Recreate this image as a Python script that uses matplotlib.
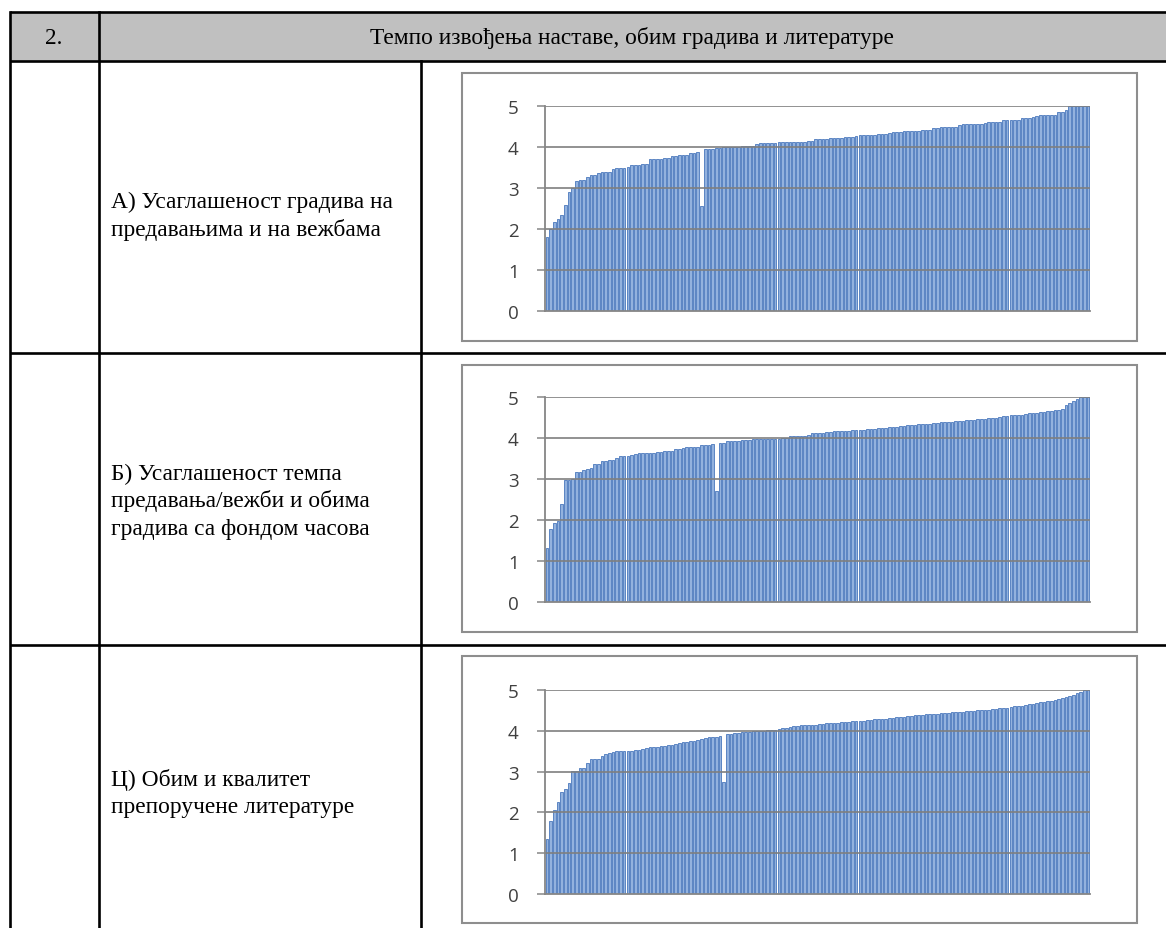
import matplotlib
matplotlib.use('Agg')
import matplotlib.pyplot as plt
from matplotlib.patches import Rectangle

W, H = 1166, 929

# table text
header_num = '2.'
header_title = 'Темпо извођења наставе, обим градива и литературе'
row_labels = [
    ['А) Усаглашеност градива на', 'предавањима и на вежбама'],
    ['Б) Усаглашеност темпа', 'предавања/вежби и обима', 'градива са фондом часова'],
    ['Ц) Обим и квалитет', 'препоручене литературе'],
]
y_ticks = [0, 1, 2, 3, 4, 5]

# sorted average marks per course
scores_a = [1.81, 2.00, 2.16, 2.25, 2.33, 2.58, 2.91, 3.00, 3.16, 3.20, 3.20, 3.26,
            3.32, 3.32, 3.37, 3.38, 3.38, 3.39, 3.47, 3.48, 3.48, 3.50, 3.52, 3.55,
            3.55, 3.57, 3.58, 3.58, 3.70, 3.70, 3.71, 3.71, 3.74, 3.74, 3.77, 3.77,
            3.80, 3.80, 3.81, 3.85, 3.85, 3.89, 2.55, 3.94, 3.94, 3.95, 3.97, 3.97,
            4.00, 4.00, 4.01, 4.01, 4.01, 4.02, 4.02, 4.03, 4.03, 4.08, 4.09, 4.10,
            4.10, 4.10, 4.10, 4.11, 4.11, 4.11, 4.11, 4.12, 4.12, 4.12, 4.13, 4.15,
            4.15, 4.19, 4.20, 4.20, 4.20, 4.21, 4.23, 4.23, 4.23, 4.24, 4.24, 4.25,
            4.28, 4.29, 4.29, 4.30, 4.30, 4.30, 4.31, 4.31, 4.32, 4.35, 4.36, 4.36,
            4.37, 4.39, 4.40, 4.40, 4.40, 4.40, 4.41, 4.41, 4.42, 4.47, 4.47, 4.48,
            4.48, 4.49, 4.49, 4.50, 4.54, 4.55, 4.55, 4.55, 4.56, 4.56, 4.57, 4.59,
            4.60, 4.60, 4.61, 4.61, 4.65, 4.66, 4.66, 4.67, 4.67, 4.70, 4.71, 4.71,
            4.72, 4.76, 4.77, 4.78, 4.78, 4.79, 4.79, 4.86, 4.86, 4.90, 5.00, 5.00,
            5.00, 5.00, 5.00, 5.00]
scores_b = [1.31, 1.78, 1.92, 1.97, 2.39, 2.98, 2.98, 2.99, 3.16, 3.16, 3.23, 3.25,
            3.27, 3.37, 3.37, 3.43, 3.45, 3.46, 3.47, 3.51, 3.56, 3.57, 3.57, 3.58,
            3.62, 3.63, 3.63, 3.63, 3.64, 3.64, 3.67, 3.67, 3.68, 3.69, 3.69, 3.73,
            3.73, 3.76, 3.77, 3.77, 3.77, 3.78, 3.83, 3.84, 3.84, 3.85, 2.70, 3.88,
            3.88, 3.92, 3.93, 3.93, 3.93, 3.94, 3.96, 3.96, 3.97, 3.97, 3.97, 3.97,
            3.98, 3.98, 3.98, 3.98, 3.99, 3.99, 4.04, 4.05, 4.05, 4.06, 4.06, 4.07,
            4.11, 4.12, 4.13, 4.13, 4.14, 4.15, 4.16, 4.16, 4.17, 4.18, 4.18, 4.19,
            4.19, 4.20, 4.20, 4.22, 4.22, 4.23, 4.24, 4.24, 4.25, 4.26, 4.26, 4.27,
            4.30, 4.30, 4.31, 4.32, 4.32, 4.33, 4.34, 4.34, 4.35, 4.37, 4.37, 4.38,
            4.39, 4.39, 4.40, 4.41, 4.41, 4.42, 4.44, 4.44, 4.45, 4.46, 4.46, 4.47,
            4.48, 4.49, 4.50, 4.52, 4.53, 4.54, 4.55, 4.55, 4.56, 4.57, 4.58, 4.60,
            4.61, 4.62, 4.63, 4.64, 4.65, 4.66, 4.68, 4.69, 4.70, 4.80, 4.85, 4.90,
            4.95, 5.00, 5.00, 5.00]
scores_c = [1.35, 1.80, 2.06, 2.26, 2.49, 2.57, 2.71, 3.02, 3.02, 3.09, 3.09, 3.21,
            3.30, 3.31, 3.32, 3.38, 3.43, 3.46, 3.49, 3.50, 3.50, 3.50, 3.50, 3.51,
            3.52, 3.52, 3.55, 3.58, 3.60, 3.60, 3.61, 3.62, 3.63, 3.65, 3.66, 3.68,
            3.70, 3.72, 3.73, 3.75, 3.76, 3.78, 3.80, 3.82, 3.84, 3.85, 3.86, 3.87,
            2.75, 3.92, 3.93, 3.94, 3.95, 3.96, 3.97, 3.98, 3.99, 4.00, 4.00, 4.00,
            4.01, 4.02, 4.03, 4.05, 4.06, 4.08, 4.10, 4.11, 4.12, 4.13, 4.13, 4.14,
            4.15, 4.15, 4.16, 4.17, 4.18, 4.19, 4.20, 4.20, 4.21, 4.22, 4.22, 4.23,
            4.24, 4.25, 4.25, 4.26, 4.27, 4.28, 4.28, 4.29, 4.30, 4.31, 4.32, 4.33,
            4.34, 4.35, 4.36, 4.37, 4.38, 4.38, 4.39, 4.40, 4.40, 4.41, 4.42, 4.43,
            4.43, 4.44, 4.45, 4.45, 4.46, 4.47, 4.48, 4.48, 4.49, 4.50, 4.50, 4.51,
            4.52, 4.53, 4.54, 4.55, 4.56, 4.57, 4.58, 4.60, 4.61, 4.62, 4.64, 4.65,
            4.66, 4.68, 4.70, 4.71, 4.72, 4.74, 4.76, 4.78, 4.80, 4.82, 4.85, 4.88,
            4.92, 4.95, 5.00, 5.00]
all_scores = [scores_a, scores_b, scores_c]

# layout in pixels (from the top left corner)
row_tops = [62, 354, 646]
text_baselines = [[208, 236], [480, 507.5, 535], [786, 813.5]]
frames = [(462, 74, 1137, 342), (462, 366, 1137, 633), (462, 657, 1137, 924)]
plots = [(545, 107, 1090, 312), (545, 398, 1090, 603), (545, 691, 1090, 895)]

serif = 'Liberation Serif'
grey = '#7F7F7F'
text_size = 16.8

fig = plt.figure(figsize=(W / 100, H / 100), dpi=100)
bg = fig.add_axes([0, 0, 1, 1])
bg.set_xlim(0, W)
bg.set_ylim(H, 0)
bg.axis('off')

# header row
bg.add_patch(Rectangle((10, 13), W - 10, 49, facecolor='#C0C0C0', edgecolor='none'))
bg.text(54, 44, header_num, family=serif, fontsize=text_size, ha='center', va='baseline')
bg.text(632, 44, header_title, family=serif, fontsize=text_size, ha='center', va='baseline')

# table grid
lw = 1.9
for y in [13, 62] + row_tops[1:]:
    bg.plot([10, W], [y, y], color='black', lw=lw, solid_capstyle='butt')
bg.plot([10, 10], [13, H], color='black', lw=lw)
bg.plot([98.5, 98.5], [13, H], color='black', lw=lw)
bg.plot([421, 421], [62, H], color='black', lw=lw)

for lines, bases in zip(row_labels, text_baselines):
    for s, yb in zip(lines, bases):
        bg.text(111, yb, s, family=serif, fontsize=text_size, ha='left', va='baseline')

for (x0, y0, x1, y1) in frames:
    bg.add_patch(Rectangle((x0, y0), x1 - x0, y1 - y0, facecolor='white',
                           edgecolor='#8E8E8E', lw=1.5))

# the bar charts
for scores, (x0, y0, x1, y1) in zip(all_scores, plots):
    ax = fig.add_axes([x0 / W, 1 - y1 / H, (x1 - x0) / W, (y1 - y0) / H])
    ax.set_facecolor('none')
    pos = range(len(scores))
    ax.bar(pos, scores, width=0.72, color='#93B2DE', edgecolor='#4A78BC',
           linewidth=0.6, zorder=2)
    ax.set_xlim(-0.5, len(scores) - 0.5)
    ax.set_ylim(0, 5)
    ax.set_yticks(y_ticks)
    ax.set_xticks([])
    for v in y_ticks[1:]:
        ax.axhline(v, color=grey, lw=1.2, zorder=3)
    for side in ['top', 'right']:
        ax.spines[side].set_visible(False)
    for side in ['left', 'bottom']:
        ax.spines[side].set_color('#868686')
        ax.spines[side].set_linewidth(1.3)
        ax.spines[side].set_zorder(4)
    ax.tick_params(axis='y', length=6, width=1.1, color='#868686', pad=13,
                   labelsize=13.5, labelcolor='#404040')
    for lab in ax.get_yticklabels():
        lab.set_family('Open Sans')

fig.savefig('out.png', dpi=100)
